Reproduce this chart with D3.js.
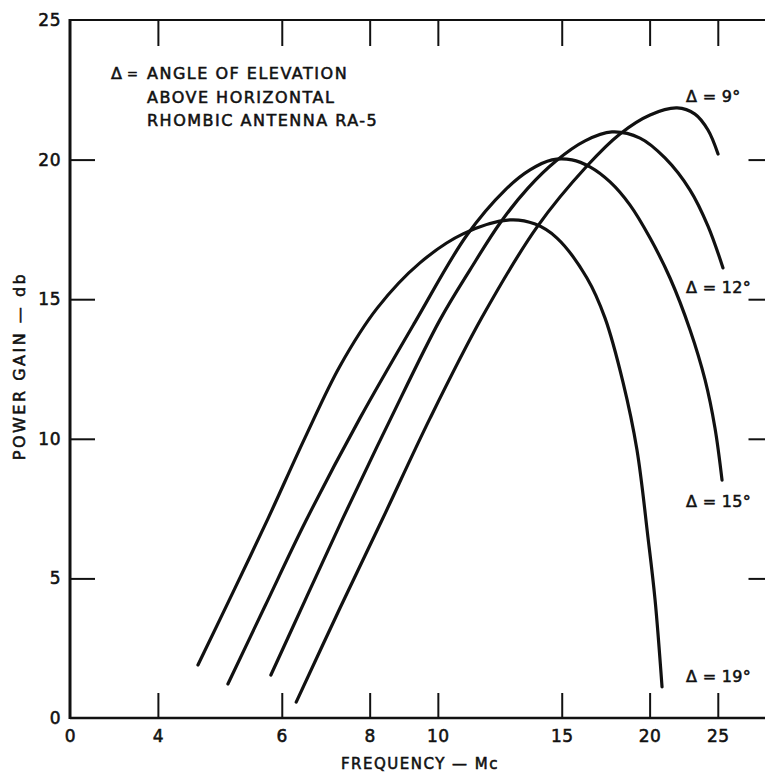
<!DOCTYPE html>
<html>
<head>
<meta charset="utf-8">
<script src="https://cdn.jsdelivr.net/npm/d3@7"></script>
<style>
  html, body { margin: 0; padding: 0; background: #fff; }
  svg { display: block; }
  text { font-family: "DejaVu Sans", sans-serif; fill: #111; stroke: #111; stroke-width: 0.55px; }
</style>
</head>
<body>
<svg id="chart" width="765" height="773"></svg>
<script>
// Rhombic antenna RA-5: power gain vs frequency for several elevation angles
const xTickValues = [3, 4, 6, 8, 10, 15, 20, 25];
const xTickLabels = ["0", "4", "6", "8", "10", "15", "20", "25"];
const yTickValues = [0, 5, 10, 15, 20, 25];

const angleLabels = ["\u0394 = 9\u00b0", "\u0394 = 12\u00b0", "\u0394 = 15\u00b0", "\u0394 = 19\u00b0"];

// frequency (Mc) and gain (db) along each curve
const freq9  = [6.29, 7.26, 8.33, 9.75, 11.56, 13.84, 16.29, 18.15, 20.03, 21.88, 23.20, 24.21, 25.02];
const gain9  = [0.57, 3.94, 7.09, 10.74, 14.36, 17.59, 19.77, 20.92, 21.60, 21.85, 21.63, 21.06, 20.20];

const freq12 = [5.79, 6.48, 7.33, 8.55, 10.07, 11.11, 12.26, 13.43, 14.72, 16.19, 17.68, 19.38, 21.03, 22.83, 24.21, 25.43];
const gain12 = [1.54, 4.23, 7.16, 10.67, 14.26, 16.05, 17.73, 18.98, 19.95, 20.67, 20.99, 20.77, 20.06, 18.91, 17.62, 16.12];

const freq15 = [5.03, 5.68, 6.48, 7.75, 9.28, 11.00, 12.46, 13.52, 14.53, 15.51, 16.45, 17.57, 18.76, 20.03, 21.38, 22.83, 23.98, 24.77, 25.35];
const gain15 = [1.22, 4.01, 7.02, 10.74, 14.18, 17.30, 18.91, 19.63, 19.99, 19.99, 19.74, 19.20, 18.37, 17.19, 15.76, 13.90, 12.11, 10.39, 8.52];

const freq19 = [4.56, 5.15, 5.74, 6.48, 7.26, 8.20, 9.43, 10.86, 12.66, 13.75, 14.77, 16.29, 17.28, 18.33, 19.19, 19.89, 20.36, 20.83];
const gain19 = [1.90, 4.66, 7.16, 10.06, 12.61, 14.68, 16.30, 17.34, 17.84, 17.69, 17.19, 15.76, 14.33, 12.03, 9.60, 6.48, 4.23, 1.11];

const series = [
  { f: freq9,  g: gain9,  label: angleLabels[0] },
  { f: freq12, g: gain12, label: angleLabels[1] },
  { f: freq15, g: gain15, label: angleLabels[2] },
  { f: freq19, g: gain19, label: angleLabels[3] }
];

const noteLines = ["ANGLE OF ELEVATION", "ABOVE HORIZONTAL", "RHOMBIC ANTENNA RA-5"];

const svg = d3.select("#chart");
const m = { left: 70, right: 773.5, top: 20, bottom: 718 };

const x = d3.scaleLog().domain([3, 30]).range([m.left, m.right]);
const y = d3.scaleLinear().domain([0, 25]).range([m.bottom, m.top]);

svg.append("rect").attr("width", 765).attr("height", 773).attr("fill", "#fff");

// ticks (all pointing into the frame)
const tickStyle = g => {
  g.selectAll(".domain").remove();
  g.selectAll(".tick line").attr("stroke", "#111").attr("stroke-width", 2);
  g.selectAll(".tick text")
    .style("font-family", '"DejaVu Sans", sans-serif')
    .style("font-size", "17px")
    .style("letter-spacing", "0.5px")
    .attr("fill", "#111");
};

svg.append("g")
  .attr("transform", `translate(0,${m.bottom})`)
  .call(d3.axisBottom(x).tickValues(xTickValues)
    .tickFormat((d, i) => xTickLabels[i])
    .tickSizeInner(-25).tickSizeOuter(0).tickPadding(12))
  .call(tickStyle)
  .call(g => g.selectAll(".tick").filter(d => d === 3).select("line").remove());

svg.append("g")
  .attr("transform", `translate(0,${m.top})`)
  .call(d3.axisTop(x).tickValues(xTickValues.slice(1)).tickFormat("")
    .tickSizeInner(-26).tickSizeOuter(0))
  .call(tickStyle);

svg.append("g")
  .attr("transform", `translate(${m.left},0)`)
  .call(d3.axisLeft(y).tickValues(yTickValues).tickFormat(d3.format("d"))
    .tickSizeInner(-25).tickSizeOuter(0).tickPadding(9))
  .call(tickStyle)
  .call(g => g.selectAll(".tick").filter(d => d === 0 || d === 25).select("line").remove());

svg.append("g")
  .attr("transform", `translate(${m.right},0)`)
  .call(d3.axisRight(y).tickValues(yTickValues.slice(1, 5)).tickFormat("")
    .tickSizeInner(-25).tickSizeOuter(0))
  .call(tickStyle);

// frame
const frame = svg.append("g").attr("stroke", "#111").attr("fill", "none");
frame.append("line").attr("x1", m.left).attr("x2", m.left).attr("y1", m.top - 1).attr("y2", m.bottom + 1).attr("stroke-width", 3);
frame.append("line").attr("x1", m.left).attr("x2", m.right).attr("y1", m.top).attr("y2", m.top).attr("stroke-width", 2.2);
frame.append("line").attr("x1", m.left).attr("x2", m.right).attr("y1", m.bottom).attr("y2", m.bottom).attr("stroke-width", 2.6);
frame.append("line").attr("x1", m.right).attr("x2", m.right).attr("y1", m.top).attr("y2", m.bottom).attr("stroke-width", 3);

// gain curves
const line = d3.line()
  .x(d => x(d[0]))
  .y(d => y(d[1]))
  .curve(d3.curveCatmullRom.alpha(0.5));

svg.append("g").selectAll("path")
  .data(series)
  .join("path")
  .attr("d", s => line(s.f.map((f, i) => [f, s.g[i]])))
  .attr("fill", "none")
  .attr("stroke", "#111")
  .attr("stroke-width", 3.2)
  .attr("stroke-linecap", "round");

// curve labels beside each curve's high-frequency end
const labelBaselines = [102, 293, 507, 682];
svg.append("g").selectAll("text")
  .data(series)
  .join("text")
  .attr("x", 686)
  .attr("y", (s, i) => labelBaselines[i])
  .style("font-size", "16px")
  .style("letter-spacing", "0.3px")
  .text(s => s.label);

// legend note
const note = svg.append("g").style("font-size", "16px").style("letter-spacing", "1.5px");
note.append("text").attr("x", 111).attr("y", 79).text("\u0394");
note.append("text").attr("x", 127).attr("y", 78).style("font-size", "13px").text("=");
note.selectAll("text.l")
  .data(noteLines)
  .join("text")
  .attr("class", "l")
  .attr("x", 147)
  .attr("y", (d, i) => 79 + i * 23.5)
  .text(d => d);

// axis titles
svg.append("text")
  .attr("x", 420).attr("y", 769)
  .attr("text-anchor", "middle")
  .style("font-size", "15px")
  .style("letter-spacing", "1.5px")
  .text("FREQUENCY \u2014 Mc");

svg.append("text")
  .attr("transform", "translate(25,366) rotate(-90)")
  .attr("text-anchor", "middle")
  .style("font-size", "16px")
  .style("letter-spacing", "2.5px")
  .text("POWER GAIN \u2014 db");
</script>
</body>
</html>
